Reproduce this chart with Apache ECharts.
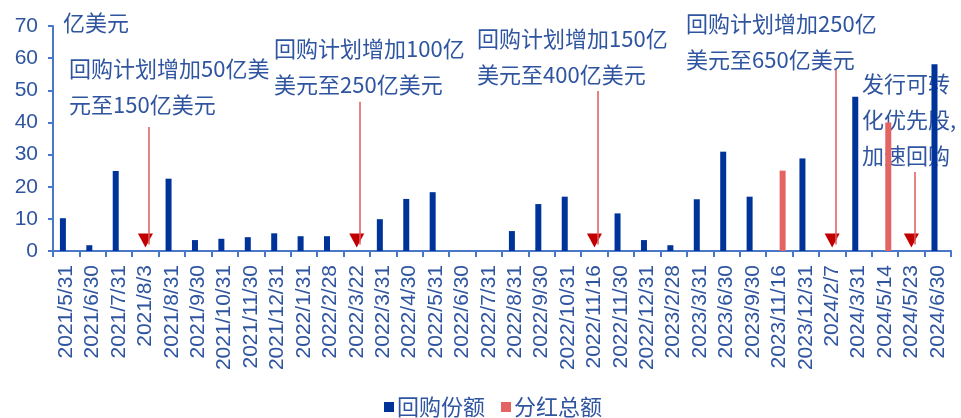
<!DOCTYPE html>
<html>
<head>
<meta charset="utf-8">
<script src="https://cdn.jsdelivr.net/npm/echarts@6/dist/echarts.min.js"></script>
<style>
  html, body { margin: 0; padding: 0; background: #fff; }
  #chart { width: 961px; height: 418px; }
</style>
</head>
<body>
<div id="chart"></div>
<script>
// Month-end dates plus the dates of buyback announcements
const categories = [
  '2021/5/31', '2021/6/30', '2021/7/31', '2021/8/3', '2021/8/31', '2021/9/30',
  '2021/10/31', '2021/11/30', '2021/12/31', '2022/1/31', '2022/2/28', '2022/3/22',
  '2022/3/31', '2022/4/30', '2022/5/31', '2022/6/30', '2022/7/31', '2022/8/31',
  '2022/9/30', '2022/10/31', '2022/11/16', '2022/11/30', '2022/12/31', '2023/2/28',
  '2023/3/31', '2023/6/30', '2023/9/30', '2023/11/16', '2023/12/31', '2024/2/7',
  '2024/3/31', '2024/5/14', '2024/5/23', '2024/6/30'
];

// Buyback amount (100M USD)
const buybackValues = [
  10.2, 1.8, 24.9, null, 22.5, 3.4,
  3.8, 4.3, 5.5, 4.6, 4.6, null,
  9.9, 16.2, 18.3, null, null, 6.2,
  14.6, 16.9, null, 11.7, 3.4, 1.8,
  16.1, 30.9, 16.9, null, 28.8, null,
  48.0, null, null, 58.1
];

// Total dividends (100M USD)
const dividendValues = [
  null, null, null, null, null, null,
  null, null, null, null, null, null,
  null, null, null, null, null, null,
  null, null, null, null, null, null,
  null, null, null, 25.0, null, null,
  null, 40.0, null, null
];

// Event arrows: date and the value where each arrow starts
const arrowDates = ['2021/8/3', '2022/3/22', '2022/11/16', '2024/2/7', '2024/5/23'];
const arrowTops = [38.6, 46.4, 49.8, 56.3, 24.6];

const yTicks = [0, 10, 20, 30, 40, 50, 60, 70];

const BLUE_TEXT = '#2f55a0';
const AXIS_BLUE = '#4a78c8';
const BAR_BLUE = '#003399';
const BAR_RED = '#e46464';
const ARROW_LINE = '#e05a5a';
const ARROW_HEAD = '#c00000';
const CJK = '"Noto Sans CJK SC", "Microsoft YaHei", sans-serif';
const LATIN = '"Liberation Sans", Arial, sans-serif';

const chart = echarts.init(document.getElementById('chart'));

const arrowLines = arrowDates.map((d, i) => [
  { coord: [d, arrowTops[i]] },
  { coord: [d, 2] }
]);
const arrowHeads = arrowDates.map(d => [d, 3.3]);

function note(x, y, lines) {
  return {
    type: 'text',
    left: x,
    top: y,
    z: 1,
    style: {
      text: lines.join('\n'),
      font: '22px ' + CJK,
      fill: BLUE_TEXT,
      lineHeight: 36
    }
  };
}

chart.setOption({
  animation: false,
  backgroundColor: '#fff',
  grid: { left: 53, right: 10, top: 26, bottom: 167, containLabel: false },
  legend: {
    left: 379,
    top: 391,
    itemWidth: 10,
    itemHeight: 10,
    itemGap: 16,
    icon: 'rect',
    textStyle: { color: BLUE_TEXT, fontSize: 22, fontFamily: CJK, padding: [0, 0, 0, -2] },
    data: ['回购份额', '分红总额']
  },
  xAxis: {
    type: 'category',
    data: categories,
    boundaryGap: true,
    axisLine: { lineStyle: { color: AXIS_BLUE, width: 2 } },
    axisTick: { show: true, length: 6, lineStyle: { color: AXIS_BLUE, width: 2 } },
    axisLabel: {
      rotate: 90,
      interval: 0,
      margin: 14,
      color: BLUE_TEXT,
      fontSize: 21,
      fontFamily: LATIN
    }
  },
  yAxis: {
    type: 'value',
    min: yTicks[0],
    max: yTicks[yTicks.length - 1],
    interval: 10,
    splitLine: { show: false },
    axisLine: { show: true, lineStyle: { color: AXIS_BLUE, width: 2 } },
    axisTick: { show: true, length: 5, lineStyle: { color: AXIS_BLUE, width: 2 } },
    axisLabel: { color: BLUE_TEXT, fontSize: 21, fontFamily: LATIN, margin: 15 }
  },
  series: [
    {
      name: '回购份额',
      type: 'bar',
      data: buybackValues,
      barWidth: 6,
      barGap: '10%',
      z: 3,
      itemStyle: { color: BAR_BLUE }
    },
    {
      name: '分红总额',
      type: 'bar',
      data: dividendValues,
      barWidth: 6,
      z: 3,
      itemStyle: { color: BAR_RED },
      markLine: {
        silent: true,
        symbol: ['none', 'none'],
        label: { show: false },
        lineStyle: { color: ARROW_LINE, width: 1.5, type: 'solid' },
        data: arrowLines
      }
    },
    {
      name: 'arrowHead',
      type: 'scatter',
      data: arrowHeads,
      symbol: 'triangle',
      symbolRotate: 180,
      symbolSize: [15, 14],
      z: 4,
      silent: true,
      itemStyle: { color: ARROW_HEAD, opacity: 1 }
    }
  ],
  graphic: [
    note(63, 5, ['亿美元']),
    note(69, 51, ['回购计划增加50亿美', '元至150亿美元']),
    note(274, 31, ['回购计划增加100亿', '美元至250亿美元']),
    note(477, 21, ['回购计划增加150亿', '美元至400亿美元']),
    note(686, 6, ['回购计划增加250亿', '美元至650亿美元']),
    note(862, 66, ['发行可转', '化优先股,', '加速回购'])
  ]
});
</script>
</body>
</html>
